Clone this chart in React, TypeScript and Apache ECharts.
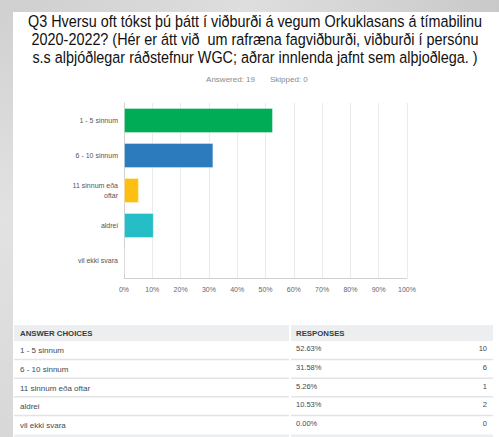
import React, { useEffect, useRef } from "react";
import * as echarts from "echarts";

const categories = ["1 - 5 sinnum", "6 - 10 sinnum", "11 sinnum eða oftar", "aldrei", "vil ekki svara"];
const axisLabels = ["1 - 5 sinnum", "6 - 10 sinnum", "11 sinnum eða\noftar", "aldrei", "vil ekki svara"];
const percents = [52.63, 31.58, 5.26, 10.53, 0.0];
const counts = [10, 6, 1, 2, 0];
const barColors = ["#00ac56", "#2b7bbd", "#fdc012", "#25bec6", "#9c6ba5"];
const titleLines = [
  "Q3 Hversu oft tókst þú þátt í viðburði á vegum Orkuklasans á tímabilinu",
  "2020-2022? (Hér er átt við  um rafræna fagviðburði, viðburði í persónu",
  "s.s alþjóðlegar ráðstefnur WGC; aðrar innlenda jafnt sem alþjoðlega. )",
];
const answeredText = "Answered: 19";
const skippedText = "Skipped: 0";
const headerChoices = "ANSWER CHOICES";
const headerResponses = "RESPONSES";

export default function App() {
  const ref = useRef<HTMLDivElement>(null);
  useEffect(() => {
    if (!ref.current) return;
    const chart = echarts.init(ref.current, null, { renderer: "svg" });
    const F = "'Liberation Sans', Arial, sans-serif";
    const graphics: any[] = [];
    graphics.push({ type: "rect", shape: { x: 0, y: 0, width: 499, height: 437 }, style: { fill: "#d6d6d6" }, z: -10 });
    graphics.push({ type: "rect", shape: { x: 0, y: 0, width: 499, height: 12 }, style: { fill: new echarts.graphic.LinearGradient(0, 0, 1, 0, [{ offset: 0, color: "#cfcfcf" }, { offset: 0.5, color: "#dedede" }, { offset: 1, color: "#c9c9c9" }]) }, z: -9 });
    graphics.push({ type: "rect", shape: { x: 0, y: 0, width: 13, height: 437 }, style: { fill: new echarts.graphic.LinearGradient(0, 0, 0, 1, [{ offset: 0, color: "#d0d0d0" }, { offset: 0.5, color: "#e2e2e2" }, { offset: 1, color: "#d8d8d8" }]) }, z: -9 });
    graphics.push({ type: "rect", shape: { x: 13, y: 12, width: 486, height: 425 }, style: { fill: "#ffffff" }, z: -8 });
    titleLines.forEach((t, i) => {
      graphics.push({ type: "text", x: 255, y: 21 + i * 18, scaleY: 1.12, originX: 0, originY: 0, style: { text: t, font: `14.4px ${F}`, fill: "#111", align: "center", verticalAlign: "middle" } });
    });
    graphics.push({ type: "text", x: 255, y: 79, style: { text: answeredText, font: `8px ${F}`, fill: "#8a8a8a", align: "right", verticalAlign: "middle" } });
    graphics.push({ type: "text", x: 270, y: 79, style: { text: skippedText, font: `8px ${F}`, fill: "#8a8a8a", align: "left", verticalAlign: "middle" } });
    const tL = 14, tR = 493, div = 290, hTop = 325, hH = 16, rowH = 18.7;
    graphics.push({ type: "rect", shape: { x: tL, y: hTop, width: div - tL - 1, height: hH }, style: { fill: "#eceeef" } });
    graphics.push({ type: "rect", shape: { x: div + 1, y: hTop, width: tR - div - 1, height: hH }, style: { fill: "#eceeef" } });
    graphics.push({ type: "text", x: 20, y: hTop + hH / 2, style: { text: headerChoices, font: `bold 7.8px ${F}`, fill: "#333d47", verticalAlign: "middle" } });
    graphics.push({ type: "text", x: 296, y: hTop + hH / 2, style: { text: headerResponses, font: `bold 7.8px ${F}`, fill: "#333d47", verticalAlign: "middle" } });
    categories.forEach((c, i) => {
      const y0 = hTop + hH + i * rowH;
      graphics.push({ type: "text", x: 20, y: y0 + rowH / 2 + 0.5, style: { text: c, font: `8px ${F}`, fill: "#3e4a56", verticalAlign: "middle" } });
      graphics.push({ type: "text", x: 296, y: y0 + rowH / 2 - 1.5, style: { text: percents[i].toFixed(2) + "%", font: `7.5px ${F}`, fill: "#3e4a56", verticalAlign: "middle" } });
      graphics.push({ type: "text", x: 487, y: y0 + rowH / 2 - 1.5, style: { text: String(counts[i]), font: `7.5px ${F}`, fill: "#3e4a56", align: "right", verticalAlign: "middle" } });
      const ly = y0 + rowH;
      if (i < categories.length - 1) {
        graphics.push({ type: "rect", shape: { x: tL, y: ly - 1, width: div - tL - 1, height: 1.5 }, style: { fill: "#e2e4e6" } });
        graphics.push({ type: "rect", shape: { x: div + 1, y: ly - 1, width: tR - div - 1, height: 1.5 }, style: { fill: "#e2e4e6" } });
      }
    });
    const bY = hTop + hH + categories.length * rowH;
    graphics.push({ type: "rect", shape: { x: tL, y: bY, width: div - tL - 1, height: 437 - bY }, style: { fill: "#eceeef" } });
    graphics.push({ type: "rect", shape: { x: div + 1, y: bY, width: tR - div - 1, height: 437 - bY }, style: { fill: "#eceeef" } });

    chart.setOption({
      animation: false,
      graphic: graphics,
      grid: { left: 124, right: 92, top: 103, bottom: 159, containLabel: false },
      xAxis: {
        type: "value",
        min: 0,
        max: 100,
        interval: 10,
        axisLabel: { formatter: "{value}%", color: "#666", fontSize: 7, fontFamily: F, margin: 8 },
        axisLine: { show: true, lineStyle: { color: "#d0d0d0", width: 1 } },
        axisTick: { show: false },
        splitLine: { show: true, lineStyle: { color: "#ebebeb", width: 1 } },
      },
      yAxis: {
        type: "category",
        inverse: true,
        data: axisLabels,
        axisLabel: { color: "#555", fontSize: 7, fontFamily: F, margin: 6, lineHeight: 10, align: "right" },
        axisLine: { show: true, lineStyle: { color: "#d0d0d0", width: 1 } },
        axisTick: { show: false },
      },
      series: [
        {
          type: "bar",
          barWidth: 25,
          data: percents.map((v, i) => ({ value: v, itemStyle: { color: barColors[i], borderColor: "rgba(255,255,255,0.35)", borderWidth: 1 } })),
        },
      ],
    });
    return () => chart.dispose();
  }, []);
  return <div ref={ref} style={{ position: "absolute", left: 0, top: 0, width: 499, height: 437 }} />;
}
